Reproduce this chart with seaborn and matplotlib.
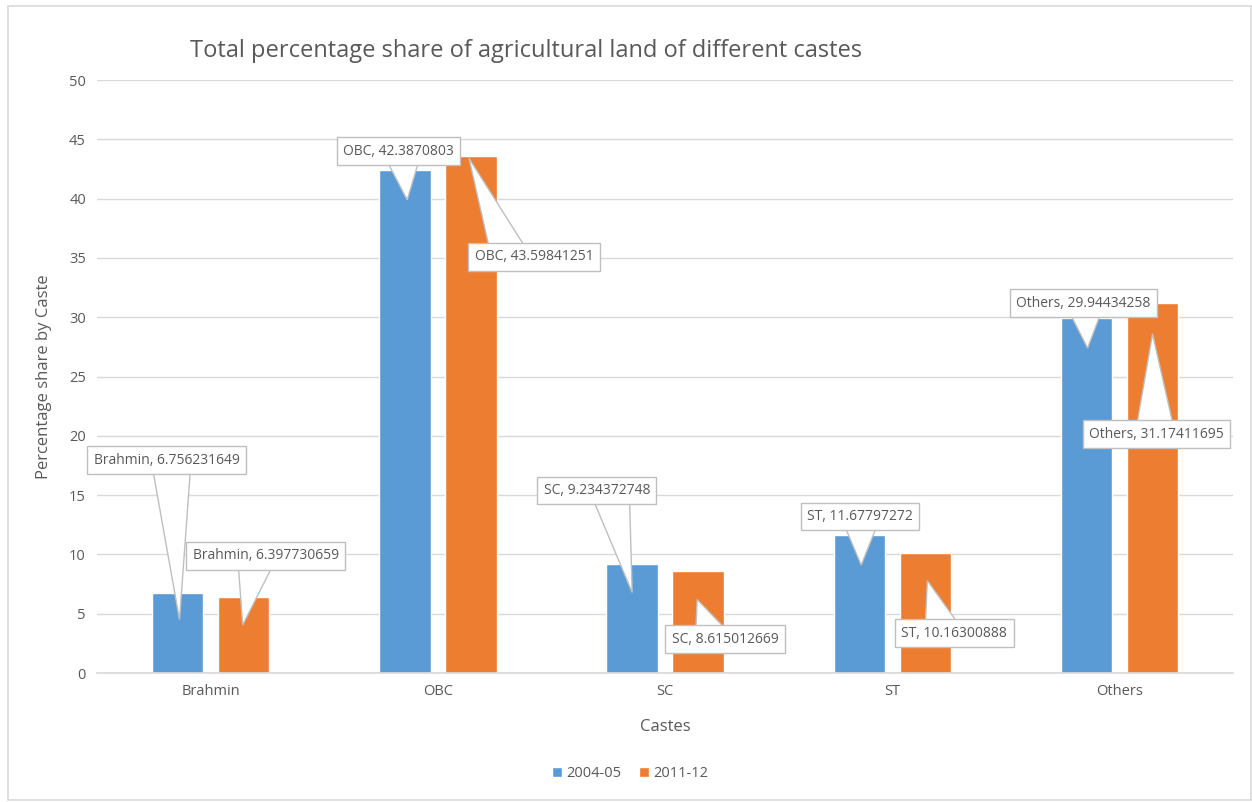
import matplotlib
matplotlib.use("Agg")
import matplotlib.pyplot as plt
import seaborn as sns
import pandas as pd
import numpy as np
from matplotlib.patches import Rectangle, Polygon

categories = ["Brahmin", "OBC", "SC", "ST", "Others"]
series = ["2004-05", "2011-12"]
values_2004 = [6.756231649, 42.3870803, 9.234372748, 11.67797272, 29.94434258]
values_2011 = [6.397730659, 43.59841251, 8.615012669, 10.16300888, 31.17411695]
colors = ["#5B9BD5", "#ED7D31"]

df = pd.DataFrame({
    "Castes": categories * 2,
    "Year": [series[0]] * 5 + [series[1]] * 5,
    "Value": values_2004 + values_2011,
})

sns.set_theme(style="white")
plt.rcParams["font.family"] = ["Open Sans", "DejaVu Sans"]
txt = "#595959"

fig = plt.figure(figsize=(12.52, 8.02), dpi=100)
fig.patches.append(Rectangle((8 / 1252, 2 / 802), 1 - 8 / 1252 - 0.001, 1 - 8 / 802,
                             transform=fig.transFigure, fill=False, ec="#d9d9d9", lw=1.2))
ax = fig.add_axes([0.0775, 0.1608, 0.9075, 0.7394])

sns.barplot(data=df, x="Castes", y="Value", hue="Year", palette=colors,
            width=0.58, gap=0.22, ax=ax, legend=True, saturation=1)

ax.set_xlim(-0.5, 4.5)
ax.set_ylim(0, 50)
ax.set_yticks(range(0, 51, 5))
ax.yaxis.grid(True, color="#d9d9d9", lw=1)
ax.set_axisbelow(True)
for s in ["left", "right", "top"]:
    ax.spines[s].set_visible(False)
ax.spines["bottom"].set_color("#d9d9d9")
ax.tick_params(axis="both", length=0, labelsize=10.5, colors=txt, pad=8)
ax.set_xlabel("Castes", fontsize=12, color=txt, labelpad=14)
ax.set_ylabel("Percentage share by Caste", fontsize=12, color=txt, labelpad=12)
fig.text(0.152, 0.937, "Total percentage share of agricultural land of different castes",
         fontsize=17, color=txt, ha="left", va="center")

handles, labels = ax.get_legend_handles_labels()
ax.legend(handles, labels, loc="center", bbox_to_anchor=(0.469, -0.17), ncol=2,
          frameon=False, fontsize=10.5, handlelength=0.7, handleheight=0.7,
          columnspacing=1.2, handletextpad=0.3, labelcolor=txt)

# callout layout: (text x offset, text y, tip x offset, tip y) relative to category index
layout_2004 = [(-0.194, 17.96, -0.137, 4.5), (-0.172, 44.0, -0.135, 39.9),
               (-0.30, 15.4, -0.145, 6.8), (-0.141, 13.2, -0.137, 9.1),
               (-0.16, 31.2, -0.141, 27.4)]
layout_2011 = [(0.242, 9.87, 0.141, 4.05), (0.423, 35.1, 0.137, 43.4),
               (0.264, 2.87, 0.141, 6.2), (0.273, 3.37, 0.154, 7.8),
               (0.163, 20.15, 0.145, 28.6)]

inv = ax.transData.inverted()
half_w = 20  # pixels
for vals, lay in ((values_2004, layout_2004), (values_2011, layout_2011)):
    for i, (cat, v) in enumerate(zip(categories, vals)):
        tx, ty, px, py = lay[i]
        c = ax.transData.transform((i + tx, ty))
        t = ax.transData.transform((i + px, py))
        # base shifted towards tip a little
        bx = c[0] + 0.35 * (t[0] - c[0])
        pts_disp = np.array([[bx - half_w, c[1]], [bx + half_w, c[1]], t])
        pts = inv.transform(pts_disp)
        ax.add_patch(Polygon(pts, closed=True, fc="white", ec="#bfbfbf", lw=1, zorder=4))
        ax.text(i + tx, ty, f"{cat}, {v:.10g}", ha="center", va="center",
                fontsize=10, color=txt, zorder=5,
                bbox=dict(boxstyle="square,pad=0.45", fc="white", ec="#bfbfbf", lw=1))

fig.savefig("out.png", dpi=100)
